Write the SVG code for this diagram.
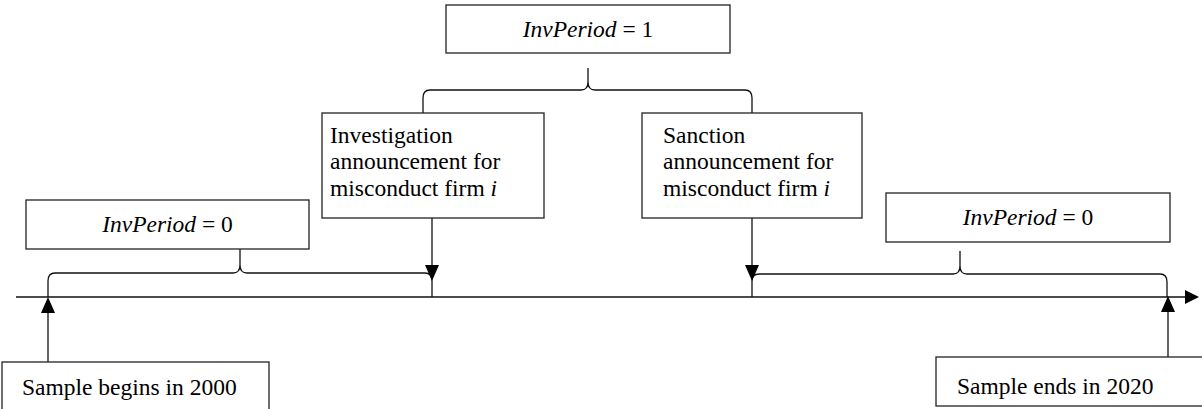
<svg xmlns="http://www.w3.org/2000/svg" width="1202" height="409" viewBox="0 0 1202 409">
<defs>
<style>
.box{fill:#fff;stroke:#222;stroke-width:1.3}
.t{font-family:"Liberation Serif","Times New Roman",serif;font-size:23.5px;fill:#000}
.i{font-style:italic}
.ln{fill:none;stroke:#111;stroke-width:1.3}
.ah{fill:#000;stroke:none}
</style>
</defs>
<rect width="1202" height="409" fill="#fff"/>
<g id="connectors">
  <line class="ln" x1="16" y1="297" x2="1186" y2="297"/>
  <polygon class="ah" points="1199,297 1185,290 1185,304"/>
  <path class="ln" d="M423,113 L423,98 Q423,90 430,90 L581,90 Q588,90 588,82 L588,68 M588,82 Q588,90 595,90 L745,90 Q752,90 752,98 L752,113"/>
  <path class="ln" d="M48,297 L48,281 Q48,273 55,273 L233,273 Q240,273 240,265 L240,249 M240,265 Q240,273 247,273 L425,273 Q432,273 432,281 L432,297"/>
  <path class="ln" d="M752,297 L752,281 Q752,274 759,274 L953,274 Q960,274 960,266 L960,251 M960,266 Q960,274 967,274 L1160,274 Q1167,274 1167,282 L1167,297"/>
  <line class="ln" x1="432" y1="218" x2="432" y2="266"/>
  <polygon class="ah" points="432,281 425,265 439,265"/>
  <line class="ln" x1="752" y1="218" x2="752" y2="266"/>
  <polygon class="ah" points="752,281 745,265 759,265"/>
  <line class="ln" x1="48" y1="362" x2="48" y2="312"/>
  <polygon class="ah" points="48,297 41,313 55,313"/>
  <line class="ln" x1="1168" y1="357" x2="1168" y2="310"/>
  <polygon class="ah" points="1168,296 1161,312 1175,312"/>
</g>
<g id="top-period">
  <rect class="box" x="446" y="5" width="284" height="48"/>
  <text class="t" x="588" y="37" text-anchor="middle"><tspan class="i">InvPeriod</tspan> = 1</text>
</g>
<g id="investigation">
  <rect class="box" x="322" y="113" width="222" height="105"/>
  <text class="t" x="330"><tspan x="330" y="143">Investigation</tspan><tspan x="330" y="169">announcement for</tspan><tspan x="330" y="196">misconduct firm <tspan class="i">i</tspan></tspan></text>
</g>
<g id="sanction">
  <rect class="box" x="642" y="113" width="220" height="105"/>
  <text class="t" x="663"><tspan x="663" y="143">Sanction</tspan><tspan x="663" y="169">announcement for</tspan><tspan x="663" y="196">misconduct firm <tspan class="i">i</tspan></tspan></text>
</g>
<g id="left-period">
  <rect class="box" x="26" y="200" width="283" height="49"/>
  <text class="t" x="167.5" y="232" text-anchor="middle"><tspan class="i">InvPeriod</tspan> = 0</text>
</g>
<g id="right-period">
  <rect class="box" x="886" y="193" width="284" height="49"/>
  <text class="t" x="1028" y="225" text-anchor="middle"><tspan class="i">InvPeriod</tspan> = 0</text>
</g>
<g id="sample-begins">
  <rect class="box" x="2" y="362" width="267" height="60"/>
  <text class="t" x="22" y="395">Sample begins in 2000</text>
</g>
<g id="sample-ends">
  <rect class="box" x="936" y="357" width="280" height="49"/>
  <text class="t" x="957" y="394">Sample ends in 2020</text>
</g>
</svg>
